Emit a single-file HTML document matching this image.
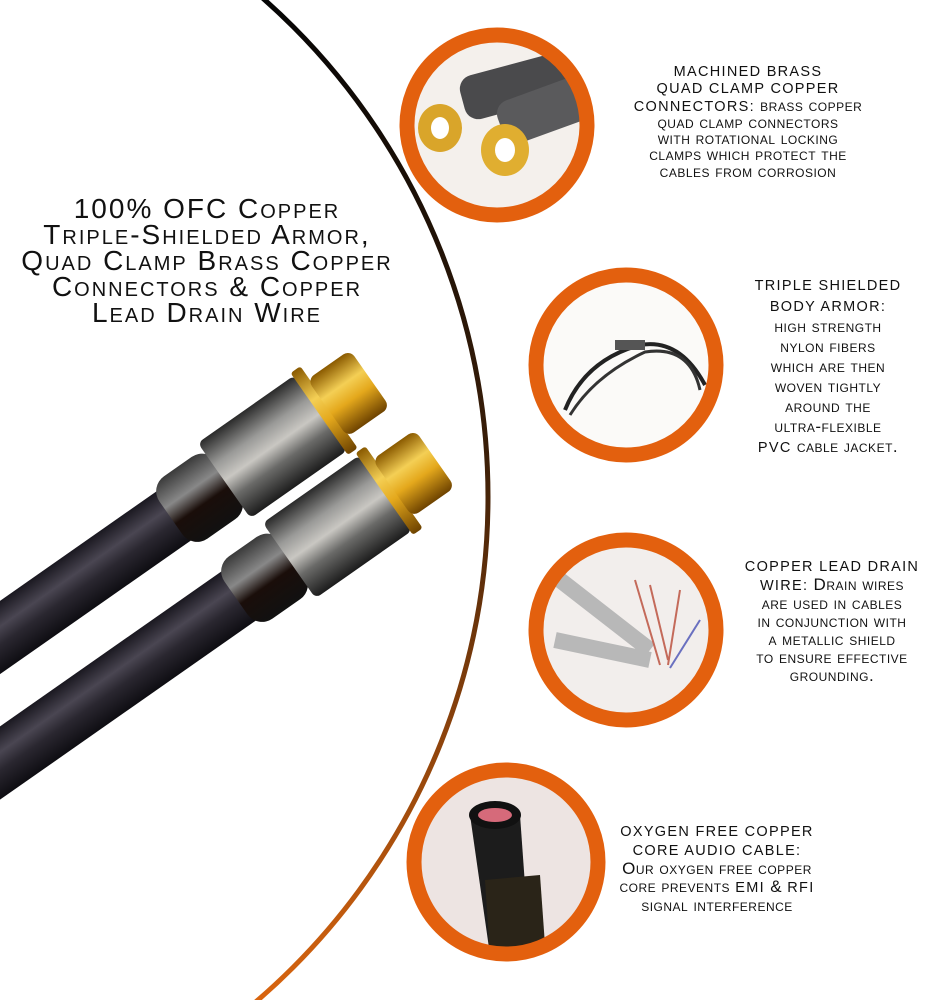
<!DOCTYPE html>
<html><head><meta charset="utf-8">
<style>
html,body{margin:0;padding:0;background:#fff;width:934px;height:1000px;overflow:hidden;}
body{position:relative;font-family:"Liberation Sans",sans-serif;color:#111;}
.t{position:absolute;text-align:center;font-variant:small-caps;white-space:nowrap;}
.title{left:0;width:414px;top:196px;font-size:28px;line-height:26px;letter-spacing:2px;}
.s{font-size:17px;letter-spacing:0.5px;}
.s b{font-weight:normal;font-size:14.5px;letter-spacing:1.3px;}
</style></head><body>
<svg width="934" height="1000" style="position:absolute;left:0;top:0">
<defs>
<linearGradient id="arc" x1="0" y1="0" x2="0" y2="1000" gradientUnits="userSpaceOnUse">
<stop offset="0" stop-color="#050505"/><stop offset="0.45" stop-color="#3a1e08"/><stop offset="1" stop-color="#d9650f"/></linearGradient>
<linearGradient id="metal" x1="0" y1="0" x2="0" y2="1">
<stop offset="0" stop-color="#2a2a2a"/><stop offset="0.3" stop-color="#9a9a98"/><stop offset="0.5" stop-color="#c9c7c2"/><stop offset="0.7" stop-color="#6a6a68"/><stop offset="1" stop-color="#1c1c1c"/></linearGradient>
<linearGradient id="boot" x1="0" y1="0" x2="0" y2="1">
<stop offset="0" stop-color="#3a3a3a"/><stop offset="0.35" stop-color="#888"/><stop offset="0.6" stop-color="#1a0e0a"/><stop offset="1" stop-color="#111"/></linearGradient>
<linearGradient id="gold" x1="0" y1="0" x2="0" y2="1">
<stop offset="0" stop-color="#8a5a00"/><stop offset="0.35" stop-color="#f4cf55"/><stop offset="0.6" stop-color="#e4a81c"/><stop offset="1" stop-color="#6e4300"/></linearGradient>
<linearGradient id="cab" x1="0" y1="0" x2="0" y2="1">
<stop offset="0" stop-color="#1a1820"/><stop offset="0.35" stop-color="#4a4652"/><stop offset="0.6" stop-color="#2a2730"/><stop offset="1" stop-color="#0e0d12"/></linearGradient>
<clipPath id="big"><circle cx="-177" cy="497" r="665"/></clipPath>
</defs>
<circle cx="-177" cy="497" r="665" fill="none" stroke="url(#arc)" stroke-width="5"/>
<g clip-path="url(#big)">
<g transform="translate(175,515) rotate(-35)">
 <rect x="-420" y="-30" width="440" height="60" fill="url(#cab)"/>
 <rect x="-5" y="-38" width="70" height="76" rx="18" fill="url(#boot)"/>
 <rect x="60" y="-46" width="118" height="92" rx="6" fill="url(#metal)"/>
 <rect x="176" y="-50" width="12" height="100" rx="3" fill="url(#gold)"/>
 <rect x="186" y="-35" width="52" height="70" rx="8" fill="url(#gold)"/>
</g>
<g transform="translate(240,595) rotate(-35)">
 <rect x="-420" y="-30" width="440" height="60" fill="url(#cab)"/>
 <rect x="-5" y="-38" width="70" height="76" rx="18" fill="url(#boot)"/>
 <rect x="60" y="-46" width="118" height="92" rx="6" fill="url(#metal)"/>
 <rect x="176" y="-50" width="12" height="100" rx="3" fill="url(#gold)"/>
 <rect x="186" y="-35" width="52" height="70" rx="8" fill="url(#gold)"/>
</g>
</g>
<circle cx="497" cy="125" r="90" fill="#f4f0ec"/>
<rect x="470" y="70" width="110" height="45" rx="14" fill="#4a4a4c" transform="rotate(-15 497 125)"/>
<rect x="500" y="105" width="90" height="45" rx="14" fill="#5a5a5c" transform="rotate(-20 497 125)"/>
<ellipse cx="440" cy="128" rx="22" ry="24" fill="#d9a52a"/><ellipse cx="440" cy="128" rx="9" ry="11" fill="#fff"/>
<ellipse cx="505" cy="150" rx="24" ry="26" fill="#e0ae30"/><ellipse cx="505" cy="150" rx="10" ry="12" fill="#fff"/>
<circle cx="497" cy="125" r="90" fill="none" stroke="#e3600e" stroke-width="15"/>
<circle cx="626" cy="365" r="90" fill="#fbfaf8"/>
<path d="M565 410 Q585 360 640 345 Q680 338 705 385" stroke="#222" stroke-width="4" fill="none"/>
<path d="M570 415 Q595 375 645 352 Q690 345 700 390" stroke="#333" stroke-width="3" fill="none"/>
<rect x="615" y="340" width="30" height="10" fill="#555"/>
<circle cx="626" cy="365" r="90" fill="none" stroke="#e3600e" stroke-width="15"/>
<circle cx="626" cy="630" r="90" fill="#f2eeec"/>
<path d="M560 580 L650 650 M555 640 L650 660" stroke="#b8b8b8" stroke-width="16" fill="none"/>
<path d="M635 580 L660 665 M650 585 L668 660 M680 590 L668 665" stroke="#c46a5a" stroke-width="2" fill="none"/>
<path d="M700 620 L670 668" stroke="#6a70c0" stroke-width="2" fill="none"/>
<circle cx="626" cy="630" r="90" fill="none" stroke="#e3600e" stroke-width="15"/>
<circle cx="506" cy="862" r="90" fill="#ede4e2"/>
<path d="M470 815 L490 955 L530 955 L520 815 Z" fill="#1c1c1c"/>
<path d="M485 880 L540 875 L545 945 L490 955 Z" fill="#2a2418"/>
<ellipse cx="495" cy="815" rx="26" ry="14" fill="#111"/>
<ellipse cx="495" cy="815" rx="17" ry="7" fill="#d66a7a"/>
<circle cx="506" cy="862" r="92" fill="none" stroke="#e3600e" stroke-width="15"/>
</svg>

<div class="t title">100% OFC Copper<br>Triple-Shielded Armor,<br>Quad Clamp Brass Copper<br>Connectors &amp; Copper<br>Lead Drain Wire</div>

<div class="t s" style="left:598px;width:300px;top:63px;line-height:16.3px;"><b>MACHINED BRASS<br>QUAD CLAMP COPPER<br>CONNECTORS:</b> brass copper<br>quad clamp connectors<br>with rotational locking<br>clamps which protect the<br>cables from corrosion</div>

<div class="t s" style="left:728px;width:200px;top:275px;line-height:20px;"><b>TRIPLE SHIELDED<br>BODY ARMOR:</b><br>high strength<br>nylon fibers<br>which are then<br>woven tightly<br>around the<br>ultra-flexible<br><b>PVC</b> cable jacket.</div>

<div class="t s" style="left:732px;width:200px;top:557px;line-height:18px;"><b>COPPER LEAD DRAIN<br>WIRE:</b> Drain wires<br>are used in cables<br>in conjunction with<br>a metallic shield<br>to ensure effective<br>grounding.</div>

<div class="t s" style="left:597px;width:240px;top:822px;line-height:18px;"><b>OXYGEN FREE COPPER<br>CORE AUDIO CABLE:</b><br>Our oxygen free copper<br>core prevents <b>EMI</b> &amp; <b>RFI</b><br>signal interference</div>
</body></html>
